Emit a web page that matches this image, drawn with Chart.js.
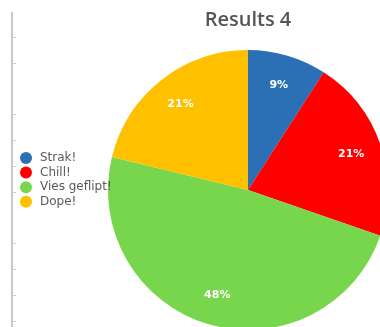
<!DOCTYPE html>
<html>
<head>
<meta charset="utf-8">
<script src="https://cdn.jsdelivr.net/npm/chart.js@4"></script>
<style>
    html, body { margin: 0; padding: 0; background: #fff; }
    body { width: 380px; height: 327px; overflow: hidden; position: relative; }
    #results-chart { position: absolute; left: 0; top: 0; }
    /* sheet ruler on the left */
    .ruler { position: absolute; left: 11px; top: 12px; width: 2px; height: 320px; background: #c9c9c9; }
    .ruler-ticks {
        position: absolute; left: 13px; top: 12px; width: 3px; height: 320px;
        background: repeating-linear-gradient(to bottom, transparent 0, transparent 25px, #cfcfcf 25px, #cfcfcf 25.8px);
    }
</style>
</head>
<body>
<div class="ruler"></div>
<div class="ruler-ticks"></div>
<canvas id="results-chart" width="400" height="340"></canvas>
<script>
const labels = ['Strak!', 'Chill!', 'Vies geflipt!', 'Dope!'];
const percentages = [9, 21, 48, 21];
const colors = ['#2b6fb5', '#ff0000', '#78d64c', '#ffc000'];

const ctx = document.getElementById('results-chart').getContext('2d');

// percentage text inside each slice
const sliceLabels = {
    id: 'sliceLabels',
    afterDatasetsDraw(chart) {
        const c = chart.ctx;
        const meta = chart.getDatasetMeta(0);
        c.save();
        c.font = 'bold 11px "DejaVu Sans"';
        c.fillStyle = '#ffffff';
        c.textAlign = 'center';
        c.textBaseline = 'middle';
        meta.data.forEach((arc, i) => {
            const mid = (arc.startAngle + arc.endAngle) / 2;
            const r = arc.outerRadius * 0.78;
            c.fillText(chart.data.datasets[0].data[i] + '%', arc.x + Math.cos(mid) * r, arc.y + Math.sin(mid) * r);
        });
        c.restore();
    }
};

// legend drawn on top of the pie, like the original sheet
const sideLegend = {
    id: 'sideLegend',
    afterDraw(chart, args, opts) {
        const c = chart.ctx;
        const ds = chart.data.datasets[0];
        c.save();
        c.font = '12px "DejaVu Sans"';
        c.textBaseline = 'middle';
        chart.data.labels.forEach((label, i) => {
            const y = opts.top + i * opts.step;
            c.fillStyle = ds.backgroundColor[i];
            c.beginPath();
            c.arc(opts.left, y, 6, 0, Math.PI * 2);
            c.fill();
            c.fillStyle = '#5a5a5a';
            c.fillText(label, opts.left + 14, y);
        });
        c.restore();
    }
};

const resultsChart = new Chart(ctx, {
    type: 'pie',
    data: {
        labels: labels,
        datasets: [{
            data: percentages,
            backgroundColor: colors,
            borderWidth: 0
        }]
    },
    options: {
        responsive: false,
        animation: false,
        layout: {
            padding: { left: 108, right: 12, top: 0, bottom: 10 }
        },
        plugins: {
            legend: { display: false },
            tooltip: { enabled: false },
            title: {
                display: true,
                text: 'Results 4',
                color: '#555555',
                font: { family: '"Open Sans"', size: 20, weight: '600' },
                padding: { top: 8, bottom: 18 }
            },
            sideLegend: { left: 26, top: 158, step: 14.6 }
        }
    },
    plugins: [sliceLabels, sideLegend]
});
</script>
</body>
</html>
